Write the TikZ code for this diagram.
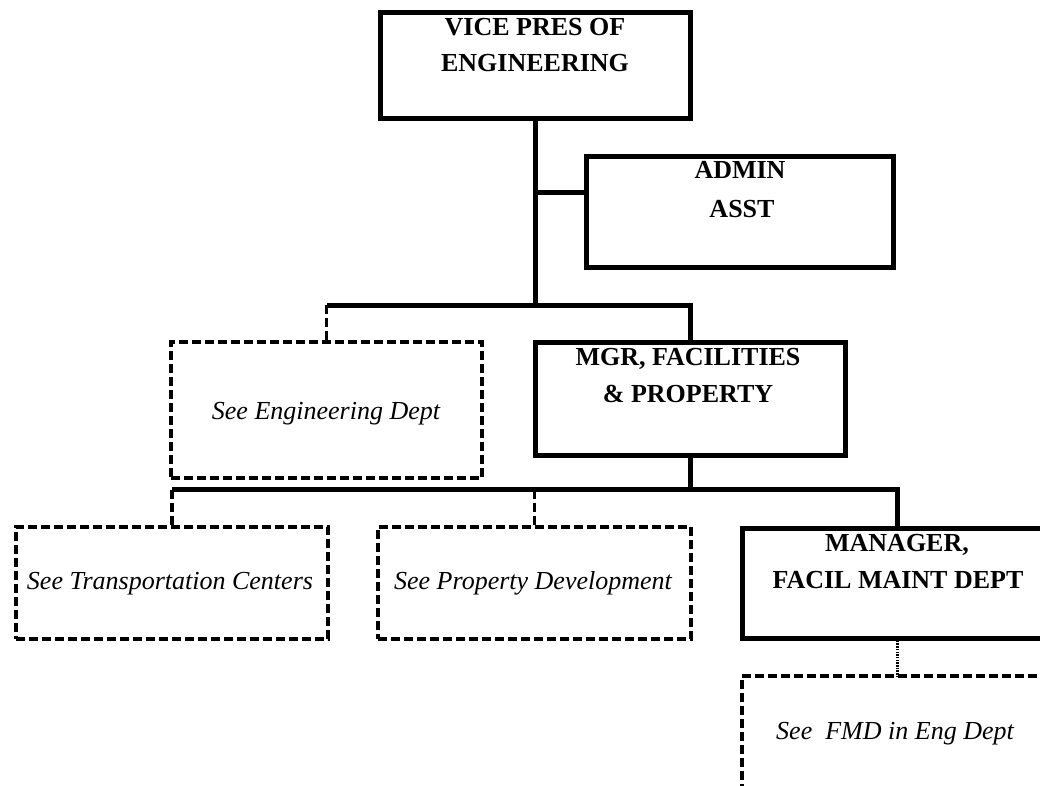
\documentclass[tikz,border=0pt]{standalone}
\usepackage{fontspec}
\setmainfont{Liberation Serif}
\begin{document}
\begin{tikzpicture}[x=1pt,y=-1pt,
  solidbox/.style={draw, rectangle, line width=5pt, inner sep=0pt, outer sep=0pt},
  dashbox/.style={draw, rectangle, line width=3.2pt, dash pattern=on 9pt off 4pt, inner sep=0pt, outer sep=0pt},
  conn/.style={line width=5pt},
  dconn/.style={line width=3.2pt, dash pattern=on 9pt off 4pt},
  dotconn/.style={line width=3pt, dash pattern=on 1.5pt off 1.2pt},
  head/.style={font=\fontsize{26}{36}\selectfont\bfseries, anchor=base, inner sep=0pt},
  note/.style={font=\fontsize{26}{36}\selectfont\itshape, anchor=base, inner sep=0pt}]
\useasboundingbox (0,0) rectangle (1040,785);

% boxes
\node[solidbox, minimum width=310pt, minimum height=106pt] (vp) at (535,65) {};
\node[solidbox, minimum width=307pt, minimum height=111pt] (admin) at (739.5,211.5) {};
\node[solidbox, minimum width=310pt, minimum height=113pt] (mgr) at (690,398.5) {};
\node[dashbox, minimum width=311pt, minimum height=136pt] (eng) at (326.5,410) {};
\node[dashbox, minimum width=312pt, minimum height=112pt] (trans) at (172,583) {};
\node[dashbox, minimum width=313pt, minimum height=112pt] (prop) at (534.5,583) {};
\node[solidbox, minimum width=310pt, minimum height=110pt] (fmm) at (897,583) {};
\node[dashbox, minimum width=310pt, minimum height=130pt] (fmd) at (897,741) {};

% titles
\node[head] (vpa) at (535,35) {VICE PRES OF};
\node[head] (vpb) at (535,71) {ENGINEERING};
\node[head] (ada) at (740,178) {ADMIN};
\node[head] (adb) at (742,217) {ASST};
\node[head] (mga) at (688,365) {MGR, FACILITIES};
\node[head] (mgb) at (688,402) {\& PROPERTY};
\node[head] (fma) at (897,551) {MANAGER,};
\node[head] (fmb) at (898,588) {FACIL MAINT DEPT};
\node[note] (engt) at (326,419) {See Engineering Dept};
\node[note] (transt) at (170,589) {See Transportation Centers};
\node[note] (propt) at (533,589) {See Property Development};
\node[note] (fmdt) at (895,739) {See\ \ FMD in Eng Dept};

% bus levels
\coordinate (busA) at (0,305);
\coordinate (busB) at (0,489.5);
\coordinate (adj) at (535,192);

% connectors
\draw[conn] (vp.south) -- (vp.south |- busA);
\draw[conn] (adj) -- (adj -| admin.west);
\draw[conn] (eng.north |- busA) -- (mgr.north |- busA) -- (mgr.north);
\draw[dconn] (eng.north |- busA) -- (eng.north);
\draw[conn] (mgr.south) -- (mgr.south |- busB);
\draw[conn] (trans.north |- busB) -- (fmm.north |- busB) -- (fmm.north);
\draw[dconn] (trans.north |- busB) -- (trans.north);
\draw[dconn] (prop.north |- busB) -- (prop.north);
\draw[dotconn] (fmm.south) -- (fmd.north);
\end{tikzpicture}
\end{document}
